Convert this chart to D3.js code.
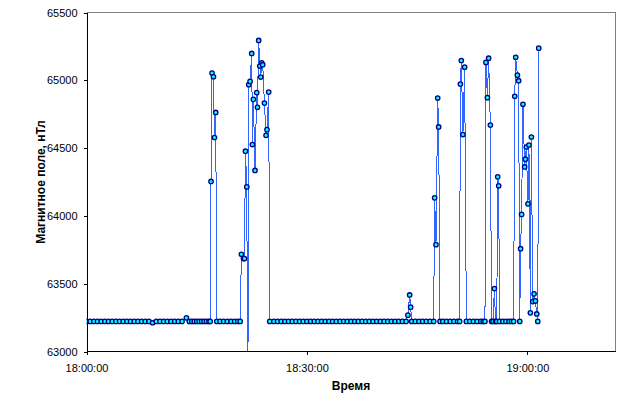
<!DOCTYPE html>
<html><head><meta charset="utf-8">
<script src="https://cdn.jsdelivr.net/npm/d3@7"></script>
<style>
html,body{margin:0;padding:0;background:#fff;}
text{font-family:"Liberation Sans",Arial,sans-serif;}
</style>
</head><body>
<svg id="chart" width="625" height="402"></svg>
<script>
// ---- data (time of reading, magnetic field in nT) ----
const times = [
  // baseline 18:00 - 18:16
  "18:00:00","18:00:30","18:01:00","18:01:30","18:02:00","18:02:30","18:03:00","18:03:30","18:04:00","18:04:30",
  "18:05:00","18:05:30","18:06:00","18:06:30","18:07:00","18:07:30","18:08:00","18:08:30","18:09:00","18:09:30",
  "18:10:00","18:10:30","18:11:00","18:11:30","18:12:00","18:12:30","18:13:00","18:13:36","18:14:00","18:14:20",
  "18:14:40","18:15:00","18:15:20","18:15:40","18:16:00","18:16:20","18:16:40","18:16:50",
  // burst 1
  "18:16:57","18:17:05","18:17:17","18:17:25","18:17:35","18:17:44",
  // baseline
  "18:18:10","18:18:40","18:19:10","18:19:40","18:20:10","18:20:35","18:20:55",
  // burst 2
  "18:21:05","18:21:22","18:21:30","18:21:38","18:21:49","18:21:57","18:22:05","18:22:16","18:22:29","18:22:35",
  "18:22:43","18:22:56","18:23:10","18:23:16","18:23:26","18:23:35","18:23:43","18:23:51","18:23:59","18:24:13",
  "18:24:26","18:24:34","18:24:48","18:24:56",
  // baseline 18:25 - 18:43
  "18:25:30","18:26:00","18:26:30","18:27:00","18:27:30","18:28:00","18:28:30","18:29:00","18:29:30","18:30:00",
  "18:30:30","18:31:00","18:31:30","18:32:00","18:32:30","18:33:00","18:33:30","18:34:00","18:34:30","18:35:00",
  "18:35:30","18:36:00","18:36:30","18:37:00","18:37:30","18:38:00","18:38:30","18:39:00","18:39:30","18:40:00",
  "18:40:30","18:41:00","18:41:30","18:42:00","18:42:30","18:43:00","18:43:30",
  // burst 3
  "18:43:45","18:43:59","18:44:07","18:44:16",
  // baseline
  "18:44:45","18:45:15","18:45:45","18:46:15","18:46:45","18:47:15",
  // burst 4
  "18:47:23","18:47:34","18:47:48","18:47:56","18:48:07",
  // baseline
  "18:48:30","18:49:00","18:49:30","18:50:00","18:50:30","18:50:47",
  // burst 5
  "18:50:53","18:51:01","18:51:14","18:51:28","18:51:42",
  // baseline
  "18:52:10","18:52:40","18:53:10","18:53:40","18:54:00","18:54:14",
  // burst 6
  "18:54:22","18:54:34","18:54:44","18:54:58","18:55:08","18:55:20","18:55:31","18:55:40","18:55:50","18:55:58",
  "18:56:06","18:56:13",
  // baseline
  "18:56:40","18:57:05","18:57:30","18:57:50","18:58:08",
  // burst 7
  "18:58:17","18:58:25","18:58:39","18:58:49","18:58:58","18:59:05","18:59:13","18:59:24","18:59:38","18:59:44",
  "18:59:52","19:00:05","19:00:13","19:00:25","19:00:33","19:00:44","19:00:55","19:01:06","19:01:17","19:01:25",
  "19:01:33"
];
const values = [
  // baseline 18:00 - 18:16
  63222,63222,63222,63222,63222,63222,63222,63222,63222,63222,
  63222,63222,63222,63222,63222,63222,63222,63222,63212,63222,
  63222,63222,63222,63222,63222,63222,63222,63248,63222,63222,
  63222,63222,63222,63222,63222,63222,63222,63222,
  // burst 1
  64254,65053,65026,64578,64763,63222,
  // baseline
  63222,63222,63222,63222,63222,63222,63222,
  // burst 2
  63717,63685,63685,64477,64214,62400,64968,64992,65198,64526,
  64859,64335,64909,64801,65294,65105,65024,65129,65115,64832,
  64594,64636,64913,63222,
  // baseline 18:25 - 18:43
  63222,63222,63222,63222,63222,63222,63222,63222,63222,63222,
  63222,63222,63222,63222,63222,63222,63222,63222,63222,63222,
  63222,63222,63222,63222,63222,63222,63222,63222,63222,63222,
  63222,63222,63222,63222,63222,63222,63222,
  // burst 3
  63268,63417,63327,63222,
  // baseline
  63222,63222,63222,63222,63222,63222,
  // burst 4
  64133,63788,64869,64656,63222,
  // baseline
  63222,63222,63222,63222,63222,63222,
  // burst 5
  64972,65146,64600,65097,63222,
  // baseline
  63222,63222,63222,63222,63222,63222,
  // burst 6
  65132,64872,65163,64670,63222,63222,63464,63222,63222,64288,
  64222,63222,
  // baseline
  63222,63222,63222,63222,63222,
  // burst 7
  64882,65170,65038,64997,63222,63758,64011,64823,64361,64418,
  64508,64089,64523,63285,64582,63368,63425,63373,63277,63222,
  65237
];
const xDomain = ["18:00:00", "19:12:00"];
const xTickLabels = ["18:00:00", "18:30:00", "19:00:00"];
const yDomain = [63000, 65500];
const yTickValues = [63000, 63500, 64000, 64500, 65000, 65500];
const xTitle = "Время";
const yTitle = "Магнитное поле, нТл";

// ---- drawing ----
const parse = d3.timeParse("%H:%M:%S");
const fmt = d3.timeFormat("%H:%M:%S");
const data = times.map((t, i) => ({ t: parse(t), v: values[i] }));

const L = 86.5, R = 615.5, T = 12.5, B = 351.5;
const svg = d3.select("#chart");

const x = d3.scaleTime().domain(xDomain.map(parse)).range([L, R]);
const y = d3.scaleLinear().domain(yDomain).range([B, T]);

// plot frame: gray top/right
svg.append("path")
  .attr("d", `M${L},${T}H${R}V${B}`)
  .attr("fill", "none").attr("stroke", "#808080").attr("stroke-width", 1)
  .attr("shape-rendering", "crispEdges");

// clip
svg.append("clipPath").attr("id", "clip")
  .append("rect").attr("x", L).attr("y", T).attr("width", R - L).attr("height", B - T);

// line
const line = d3.line().x(d => x(d.t)).y(d => y(d.v));
svg.append("path").datum(data)
  .attr("clip-path", "url(#clip)")
  .attr("d", line)
  .attr("fill", "none").attr("stroke", "#3366FF").attr("stroke-width", 1)
  .attr("shape-rendering", "crispEdges");

// markers
svg.append("g").attr("clip-path", "url(#clip)")
  .selectAll("circle").data(data.filter(d => d.v >= yDomain[0])).join("circle")
  .attr("cx", d => x(d.t)).attr("cy", d => y(d.v)).attr("r", 2.2)
  .attr("fill", "#00FFFF").attr("stroke", "#000080").attr("stroke-width", 1.3);

// y axis
const yAxis = d3.axisLeft(y).tickValues(yTickValues).tickSize(3).tickPadding(6)
  .tickFormat(d3.format("d"));
const gy = svg.append("g").attr("transform", `translate(${L},0)`).call(yAxis);
gy.select(".domain").attr("stroke", "#000").attr("shape-rendering", "crispEdges");
gy.selectAll(".tick line").attr("stroke", "#000").attr("shape-rendering", "crispEdges");
gy.selectAll("text").attr("font-size", "11px").attr("fill", "#000")
  .attr("font-family", "'Liberation Sans', Arial, sans-serif");

// x axis
const xAxis = d3.axisBottom(x).tickValues(xTickLabels.map(parse)).tickSize(3).tickPadding(10)
  .tickFormat(fmt);
const gx = svg.append("g").attr("transform", `translate(0,${B})`).call(xAxis);
gx.select(".domain").attr("d", `M${L},0H${R}`).attr("stroke", "#000").attr("shape-rendering", "crispEdges");
gx.selectAll(".tick line").attr("stroke", "#000").attr("shape-rendering", "crispEdges");
gx.selectAll("text").attr("font-size", "11px").attr("fill", "#000")
  .attr("font-family", "'Liberation Sans', Arial, sans-serif");

// titles
svg.append("text").attr("x", (L + R) / 2).attr("y", 390)
  .attr("text-anchor", "middle").attr("font-size", "12px").attr("font-weight", "bold")
  .text(xTitle);
svg.append("text").attr("transform", `translate(45,${(T + B) / 2}) rotate(-90)`)
  .attr("text-anchor", "middle").attr("font-size", "12px").attr("font-weight", "bold")
  .text(yTitle);
</script>
</body></html>
